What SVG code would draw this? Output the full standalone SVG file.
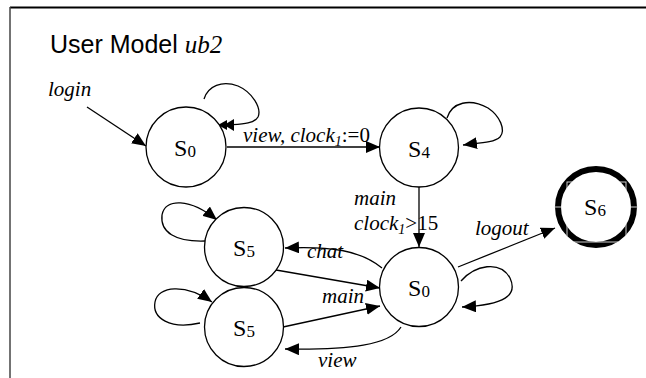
<svg xmlns="http://www.w3.org/2000/svg" width="646" height="378" viewBox="0 0 646 378">
  <style>
    .node { fill: #fff; stroke: #000; stroke-width: 1.3; }
    .final { fill: #fff; stroke: #000; stroke-width: 6; }
    .edge { fill: none; stroke: #000; stroke-width: 1.3; marker-end: url(#ah); }
    .nolbl { font-family: "Liberation Serif", "Times New Roman", serif; font-size: 24px; fill: #000; text-anchor: middle; }
    .sub { font-size: 17px; }
    .lbl { font-family: "Liberation Serif", "Times New Roman", serif; font-size: 21px; font-style: italic; fill: #000; }
    .up { font-style: normal; }
    .isub { font-size: 14px; }
    .title { font-family: "Liberation Sans", Arial, sans-serif; font-size: 25px; fill: #000; }
    .artifact { fill: none; stroke: #cfcfcf; stroke-width: 1; }
  </style>
  <defs>
    <marker id="ah" viewBox="0 0 14 12" refX="14" refY="6" markerWidth="14" markerHeight="12" orient="auto" markerUnits="userSpaceOnUse">
      <path d="M0,0 L14,6 L0,12 z" fill="#000"/>
    </marker>
    <clipPath id="ring">
      <path clip-rule="evenodd" d="M596,165.5 a41.5,41.5 0 1,1 0,83 a41.5,41.5 0 1,1 0,-83 z M596,172.5 a34.5,34.5 0 1,0 0,69 a34.5,34.5 0 1,0 0,-69 z"/>
    </clipPath>
  </defs>

  <rect x="0" y="0" width="646" height="378" fill="#fff"/>

  <g id="frame">
    <line x1="10" y1="7.5" x2="646" y2="7.5" stroke="#000" stroke-width="2"/>
    <line x1="10" y1="7" x2="10" y2="378" stroke="#444" stroke-width="1.5"/>
  </g>

  <g id="title">
    <text class="title" x="50" y="53">User Model <tspan font-family="Liberation Serif, Times New Roman, serif" font-style="italic">ub2</tspan></text>
  </g>

  <g id="connectors">
    <path id="e-login" class="edge" d="M87,107 L146,146"/>
    <path id="e-s0-loop" d="M204,99 C208,86 222,80 238,86 C252,92 262,108 258,117 C254,124 240,124 228,125" fill="none" stroke="#000" stroke-width="1.3"/>
    <polygon points="218,125 227,120 227,130" fill="#000"/>
    <polygon points="224,125 234,119 234,131" fill="#000"/>
    <path id="e-s0-s4" class="edge" d="M227,147 L380,147"/>
    <path id="e-s4-loop" class="edge" d="M447,118 C452,102 470,98 488,108 C500,116 506,130 500,137 C494,143 478,143 463,145"/>
    <path id="e-s4-s0b" class="edge" d="M419,187 L419,247"/>
    <path id="e-chat" class="edge" d="M382,268 C360,250 330,246 285,248"/>
    <path id="e-s5a-s0b" class="edge" d="M276,270 L380,288"/>
    <path id="e-s5b-s0b" class="edge" d="M283,327 L380,306"/>
    <path id="e-view" class="edge" d="M401,327 C390,345 350,350 285,349"/>
    <path id="e-s5a-loop" class="edge" d="M205,241 C175,242 160,232 162,215 C165,198 190,198 217,220"/>
    <path id="e-s5b-loop" class="edge" d="M200,323 C170,330 152,318 155,302 C158,286 185,283 212,302"/>
    <path id="e-s0b-loop" class="edge" d="M461,281 C475,265 500,260 510,278 C518,295 505,305 462,307"/>
    <path id="e-logout" class="edge" d="M458,267 L555,228"/>
  </g>

  <g id="edge-labels">
    <text class="lbl" x="48" y="96">login</text>
    <text class="lbl" x="243" y="142">view, clock<tspan class="isub" dy="4">1</tspan><tspan class="up" dy="-4">:=0</tspan></text>
    <text class="lbl" x="354" y="205">main</text>
    <text class="lbl" x="354" y="230">clock<tspan class="isub" dy="4">1</tspan><tspan class="up" dy="-4">&gt;15</tspan></text>
    <text class="lbl" x="307" y="258">chat</text>
    <text class="lbl" x="322" y="303">main</text>
    <text class="lbl" x="318" y="367">view</text>
    <text class="lbl" x="475" y="235">logout</text>
  </g>

  <g id="n-s0">
    <circle class="node" cx="186" cy="147" r="40"/>
    <text class="nolbl" x="185" y="156">S<tspan class="sub" dy="1">0</tspan></text>
  </g>
  <g id="n-s4">
    <circle class="node" cx="419" cy="147.5" r="39.5"/>
    <text class="nolbl" x="419" y="156.5">S<tspan class="sub" dy="1">4</tspan></text>
  </g>
  <g id="n-s0b">
    <circle class="node" cx="419" cy="287" r="39.5"/>
    <text class="nolbl" x="419" y="296">S<tspan class="sub" dy="1">0</tspan></text>
  </g>
  <g id="n-s5a">
    <circle class="node" cx="244" cy="247" r="39.5"/>
    <text class="nolbl" x="244" y="256">S<tspan class="sub" dy="1">5</tspan></text>
  </g>
  <g id="n-s5b">
    <circle class="node" cx="244" cy="327" r="39.5"/>
    <text class="nolbl" x="244" y="336">S<tspan class="sub" dy="1">5</tspan></text>
  </g>
  <g id="n-s6">
    <circle class="final" cx="596" cy="207" r="38"/>
    <g clip-path="url(#ring)">
      <rect class="artifact" x="567" y="182" width="59" height="60"/>
      <line class="artifact" x1="550" y1="207" x2="642" y2="207"/>
    </g>
    <text class="nolbl" x="595" y="215">S<tspan class="sub" dy="1">6</tspan></text>
  </g>
</svg>
